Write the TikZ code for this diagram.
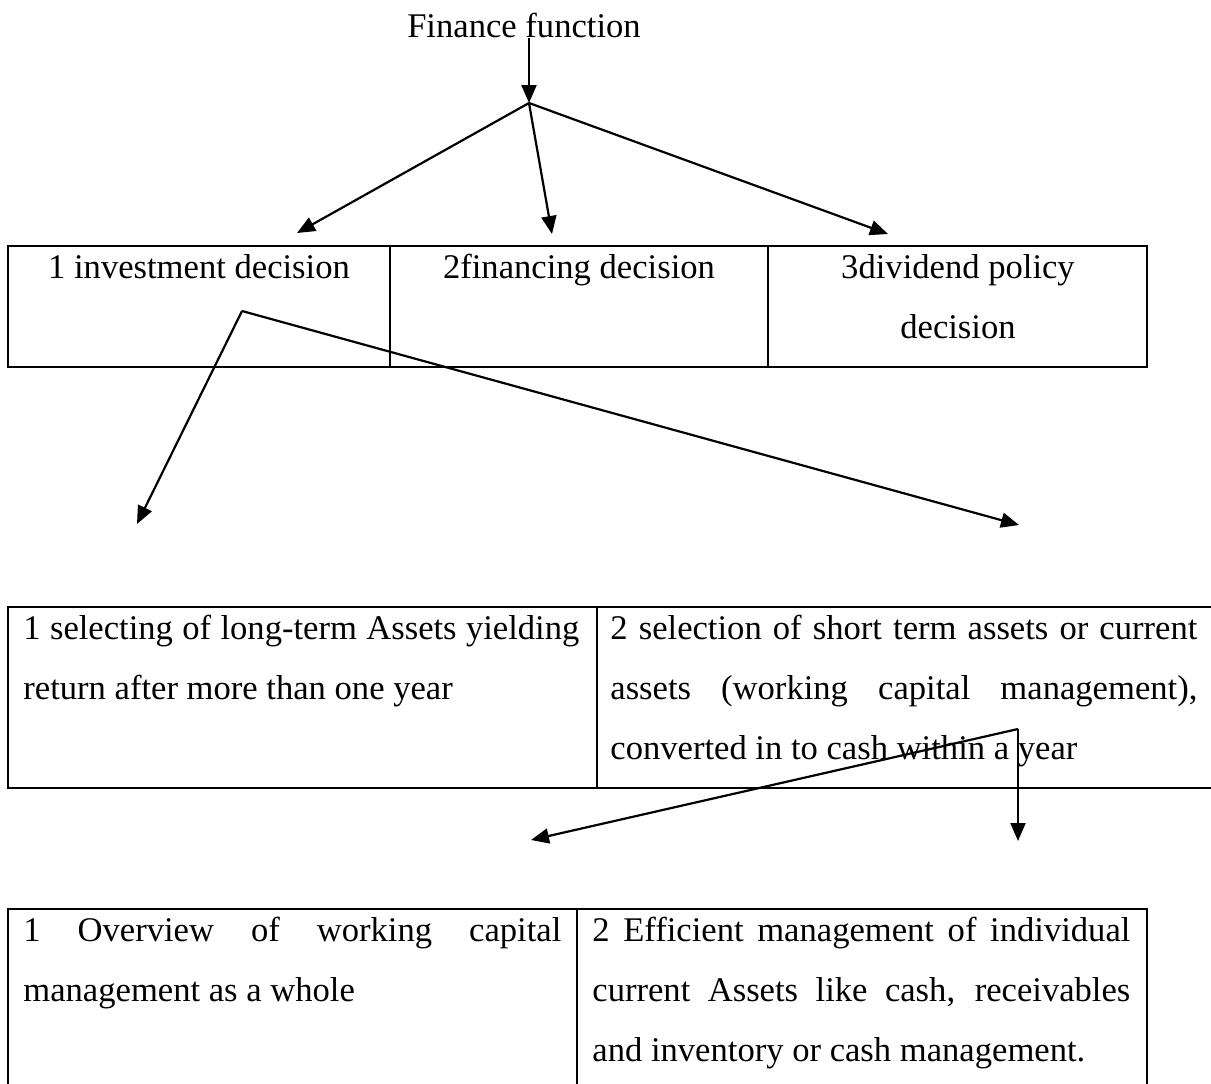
\documentclass[tikz,border=0pt]{standalone}
\usepackage{fontspec}
\setmainfont{Liberation Serif}
\usetikzlibrary{arrows.meta}
\tikzstyle{headText} = [inner sep=0pt, anchor=base, align=center, font=\fontsize{17.3}{30}\selectfont]
\tikzstyle{cellText} = [inner sep=0pt, anchor=base west, align=justify, font=\fontsize{17.3}{30}\selectfont]
\tikzstyle{frame} = [line width=1pt]
\tikzstyle{link} = [line width=1.1pt, -{Triangle[length=9pt,width=7.5pt]}]

\begin{document}
\begin{tikzpicture}[x=0.5pt,y=-0.5pt]
		\useasboundingbox (0,0) rectangle (1211,1083);
		\clip (0,0) rectangle (1211,1083);
		\fill [white] (0,0) rectangle (1211,1083);
		
		\node [headText](fin) at (524,37){Finance function};
		\coordinate (hub) at (529,103);
		
		% first table: three decisions
		\draw [frame] (8,246) rectangle (1147,367);
		\draw [frame] (390,246) -- (390,367);
		\draw [frame] (768,246) -- (768,367);
		\node [headText](inv) at (199,278){1 investment decision};
		\node [headText](fnc) at (579,278){2financing decision};
		\node [headText](div) at (958,338){3dividend policy\\decision};
		
		% second table: long and short term assets
		\draw [frame] (8,607) rectangle (1220,788);
		\draw [frame] (597,607) -- (597,788);
		\node [cellText,text width=278pt](longTerm) at (23,639){1 selecting of long-term Assets yielding\linebreak return after more than one year};
		\node [cellText,text width=293.5pt](shortTerm) at (610,639){2 selection of short term assets or current\linebreak assets (working capital management),\linebreak converted in to cash within a year};
		
		% third table: working capital
		\draw [frame] (8,909) rectangle (1147,1100);
		\draw [frame] (577,909) -- (577,1100);
		\node [cellText,text width=269pt](overview) at (23,941){1 Overview of working capital\linebreak management as a whole};
		\node [cellText,text width=269pt](efficient) at (592,941){2 Efficient management of individual\linebreak current Assets like cash, receivables\linebreak and inventory or cash management.};
		
		\coordinate (tipInv) at (297,233);
		\coordinate (tipFnc) at (552,234);
		\coordinate (tipDiv) at (888,234);
		\coordinate (kinkInv) at (242,311);
		\coordinate (tipLong) at (137,524);
		\coordinate (tipShort) at (1019,525);
		\coordinate (kinkShort) at (1018,729);
		\coordinate (tipWhole) at (531,840);
		\coordinate (tipSingle) at (1018,841);
		
		\draw [link] (fin.south -| hub) -- (hub);
		\draw [link] (hub) -- (tipInv);
		\draw [link] (hub) -- (tipFnc);
		\draw [link] (hub) -- (tipDiv);
		\draw [link] (kinkInv) -- (tipLong);
		\draw [link] (kinkInv) -- (tipShort);
		\draw [link] (kinkShort) -- (tipWhole);
		\draw [link] (kinkShort) -- (tipSingle);
		
		\end{tikzpicture}
\end{document}
